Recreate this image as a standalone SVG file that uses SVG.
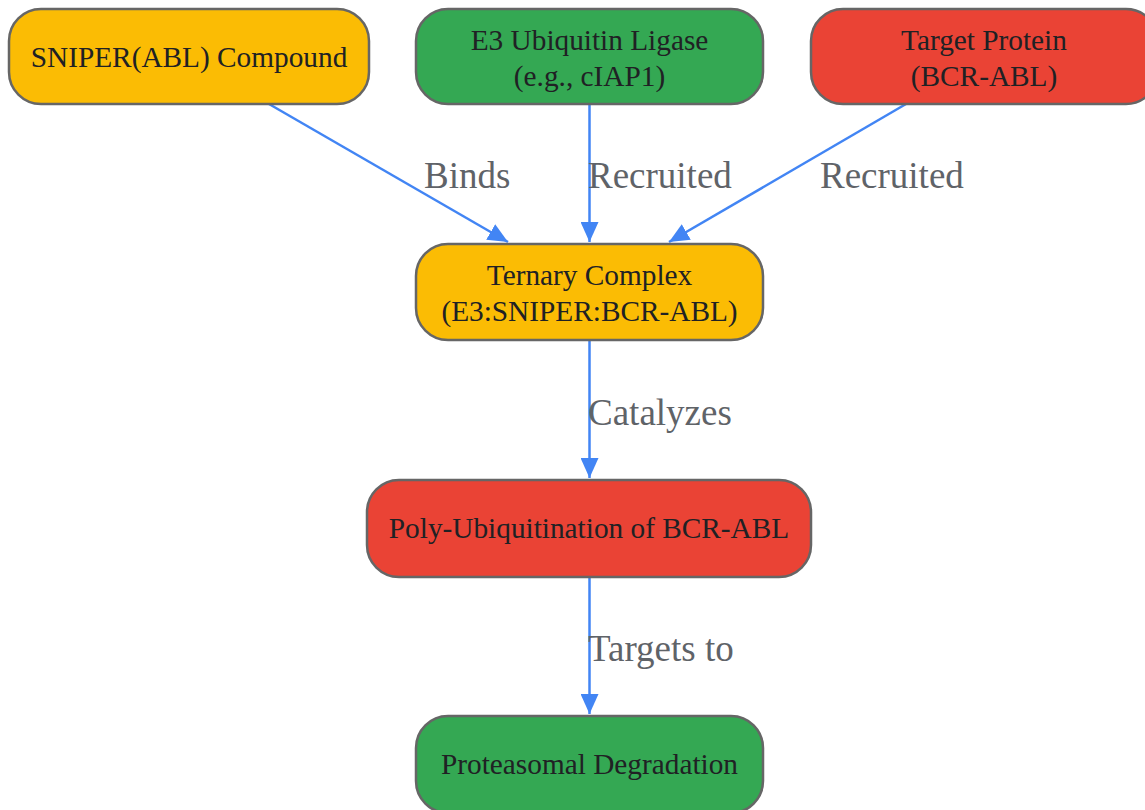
<svg xmlns="http://www.w3.org/2000/svg" width="1145" height="810" viewBox="0 0 1145 810">
<style>
.node rect{stroke:#666;stroke-width:2.5}
.node text{font-family:"Liberation Serif","Times New Roman",serif;font-size:29.3px;fill:#202124;text-anchor:middle}
.yellow{fill:#FBBC04}.green{fill:#34A853}.red{fill:#EA4335}
.edge{stroke:#4285F4;stroke-width:2.5;fill:none;marker-end:url(#arrh)}
.lbl{font-family:"Liberation Serif","Times New Roman",serif;font-size:37px;fill:#5f6368}
</style>
<defs>
<marker id="arrh" viewBox="0 0 20 18" refX="20" refY="9" markerWidth="20" markerHeight="18" markerUnits="userSpaceOnUse" orient="auto">
<path d="M0,0 L20,9 L0,18 z" fill="#4285F4"/>
</marker>
</defs>
<rect width="1145" height="810" fill="#fff"/>
<g id="connectors">
<line class="edge" x1="269" y1="104" x2="508" y2="242"/>
<line class="edge" x1="589.5" y1="104" x2="589.5" y2="242"/>
<line class="edge" x1="906" y1="104" x2="669" y2="242"/>
<line class="edge" x1="589.5" y1="340" x2="589.5" y2="478"/>
<line class="edge" x1="589.5" y1="577" x2="589.5" y2="714"/>
<text class="lbl" x="424" y="188">Binds</text>
<text class="lbl" x="588" y="188">Recruited</text>
<text class="lbl" x="820" y="188">Recruited</text>
<text class="lbl" x="588" y="425">Catalyzes</text>
<text class="lbl" x="588" y="661">Targets to</text>
</g>
<g id="sniper" class="node">
<rect class="yellow" x="9" y="9" width="360" height="95" rx="32"/>
<text x="189" y="67">SNIPER(ABL) Compound</text>
</g>
<g id="e3" class="node">
<rect class="green" x="416" y="9" width="347" height="95" rx="32"/>
<text x="589.5" y="50">E3 Ubiquitin Ligase</text>
<text x="589.5" y="86">(e.g., cIAP1)</text>
</g>
<g id="target" class="node">
<rect class="red" x="811" y="9" width="347" height="95" rx="32"/>
<text x="984" y="50">Target Protein</text>
<text x="984" y="86">(BCR-ABL)</text>
</g>
<g id="ternary" class="node">
<rect class="yellow" x="416" y="244" width="347" height="96" rx="32"/>
<text x="589.5" y="285">Ternary Complex</text>
<text x="589.5" y="321">(E3:SNIPER:BCR-ABL)</text>
</g>
<g id="poly" class="node">
<rect class="red" x="367" y="480" width="444" height="97" rx="32"/>
<text x="589" y="538">Poly-Ubiquitination of BCR-ABL</text>
</g>
<g id="proteasome" class="node">
<rect class="green" x="416" y="716" width="347" height="97" rx="32"/>
<text x="589.5" y="774">Proteasomal Degradation</text>
</g>
</svg>
